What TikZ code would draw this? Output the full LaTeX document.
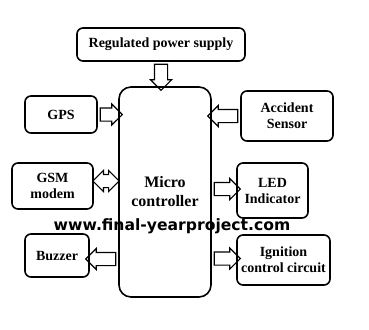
\documentclass[tikz,border=0pt]{standalone}
\usepackage{fontspec}
\setmainfont{Liberation Serif}
\newfontfamily\wmfont{DejaVu Sans}
\usetikzlibrary{shapes,arrows,calc}

\begin{document}
\begin{tikzpicture}[x=1pt, y=-1pt,
				block/.style={draw, line width=1.6pt, rounded corners=6pt, align=center, inner sep=2pt, font=\bfseries\fontsize{14}{16}\selectfont},
				harrow/.style={draw, single arrow, line width=1.1pt, inner sep=6pt, single arrow head extend=4pt, minimum width=20pt},
				darrow/.style={draw, double arrow, line width=1.1pt, inner sep=6pt, double arrow head extend=4pt, minimum width=20pt}]
				%Rahmen
				\useasboundingbox (0,0) rectangle (369,329);
				% Bloecke
				\node[block, minimum width=168pt, minimum height=33pt] (rps) at (161,44.5) {Regulated power supply};
				\node[block, rounded corners=12pt, minimum width=92pt, minimum height=210pt, font=\bfseries\fontsize{16}{19}\selectfont] (mc) at (165,192) {Micro\\controller};
				\node[block, minimum width=72pt, minimum height=37pt] (gps) at (61,114.5) {GPS};
				\node[block, minimum width=92pt, minimum height=50pt] (acc) at (287,116) {Accident\\Sensor};
				\node[block, minimum width=81pt, minimum height=46pt] (gsm) at (52.5,186) {GSM\\modem};
				\node[block, minimum width=71pt, minimum height=55pt] (led) at (272.5,190.5) {LED\\Indicator};
				\node[block, minimum width=64pt, minimum height=43pt] (buz) at (57,255.5) {Buzzer};
				\node[block, minimum width=93pt, minimum height=50pt] (ign) at (283.5,260) {Ignition\\control circuit};
				% Blockpfeile
				\node[harrow, minimum height=26pt, shape border rotate=270] (pwr) at ($(rps.south)!.5!(rps.south |- mc.north)$) {};
				\node[harrow, minimum height=22pt] (agps) at ($(gps.east)!.5!(gps.east -| mc.west)$) {};
				\node[harrow, minimum height=30pt, shape border rotate=180] (aacc) at ($(acc.west)!.5!(acc.west -| mc.east)$) {};
				\node[darrow, minimum height=26pt] (agsm) at ($(gsm.east)!.5!(gsm.east -| mc.west)+(0,-5)$) {};
				\node[harrow, minimum height=26pt] (aled) at ($(led.west)!.5!(led.west -| mc.east)+(0,-1.5)$) {};
				\node[harrow, minimum height=30pt, shape border rotate=180] (abuz) at ($(buz.east)!.5!(buz.east -| mc.west)+(0,3.5)$) {};
				\node[harrow, minimum height=26pt] (aign) at ($(ign.west)!.5!(ign.west -| mc.east)+(0,-1.5)$) {};
				% Wasserzeichen
				\node[font=\wmfont\bfseries\fontsize{15.6}{18}\selectfont] (wm) at (172,226) {www.final-yearproject.com};
\end{tikzpicture}
\end{document}
